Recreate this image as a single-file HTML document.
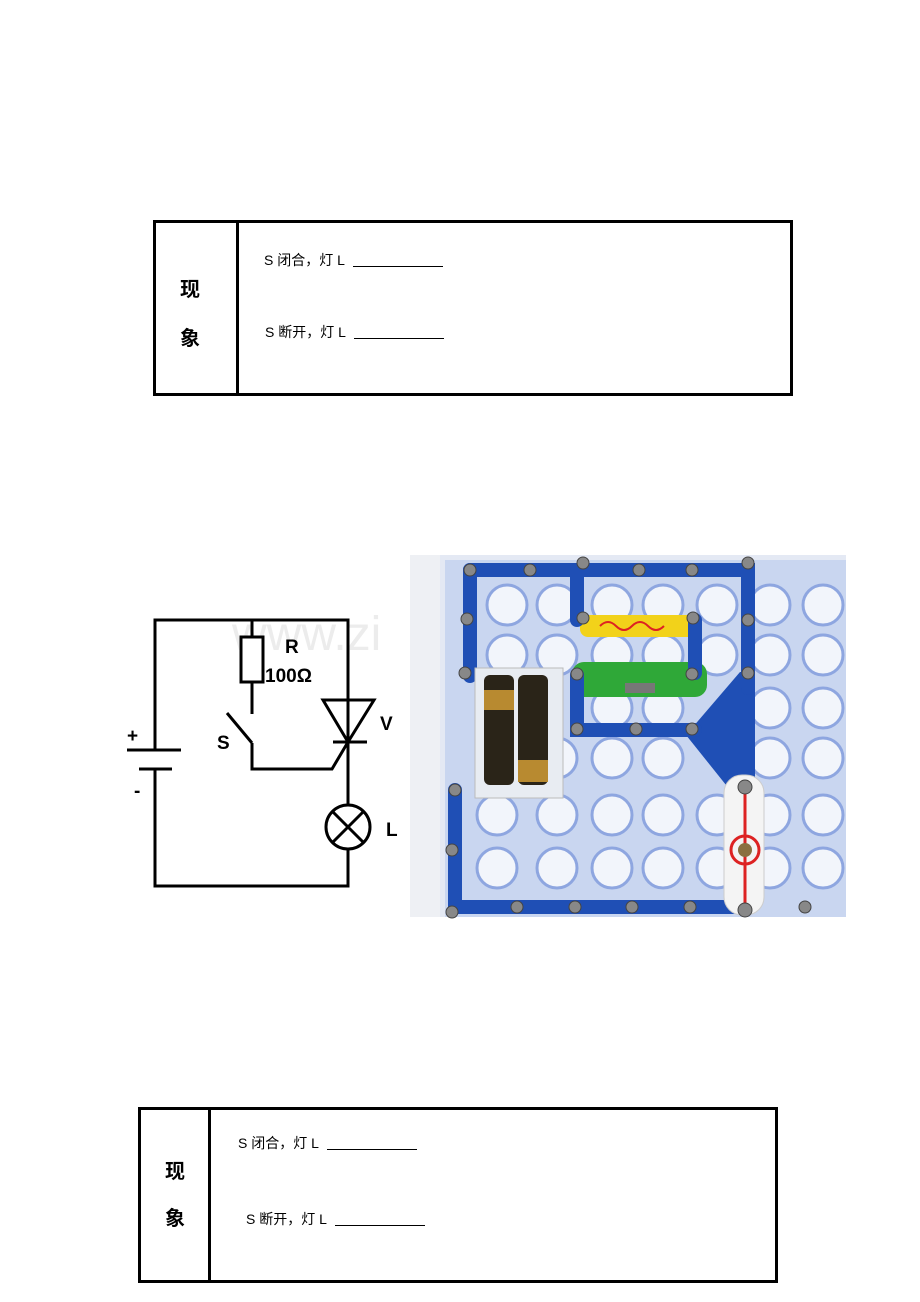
<!DOCTYPE html>
<html><head><meta charset="utf-8"><style>
html,body{margin:0;padding:0;background:#fff;}
body{width:920px;height:1302px;position:relative;overflow:hidden;font-family:"Liberation Sans","Noto Sans CJK SC",sans-serif;}
.t{position:absolute;border:3px solid #000;box-sizing:border-box;}
.d{position:absolute;top:0;bottom:0;border-left:3px solid #000;}
.lab{position:absolute;font-size:20px;font-weight:bold;}
.row{position:absolute;font-size:14px;white-space:nowrap;}
.u{display:inline-block;width:90px;border-bottom:1px solid #000;margin-left:8px;vertical-align:-2px;}
</style></head><body>
<div class="t" style="left:153px;top:220px;width:640px;height:176px;">
 <div class="d" style="left:80px"></div>
 <div class="lab" style="left:24px;top:50px">现</div>
 <div class="lab" style="left:24px;top:99px">象</div>
 <div class="row" style="left:108px;top:27px">S 闭合，灯 L<span class="u"></span></div>
 <div class="row" style="left:109px;top:99px">S 断开，灯 L<span class="u"></span></div>
</div>
<div class="t" style="left:138px;top:1107px;width:640px;height:176px;">
 <div class="d" style="left:67px"></div>
 <div class="lab" style="left:24px;top:45px">现</div>
 <div class="lab" style="left:24px;top:92px">象</div>
 <div class="row" style="left:97px;top:23px">S 闭合，灯 L<span class="u"></span></div>
 <div class="row" style="left:105px;top:99px">S 断开，灯 L<span class="u"></span></div>
</div>
<svg style="position:absolute;left:0;top:0" width="920" height="1302">
 <text x="232" y="650" font-family="Liberation Sans" font-size="48" fill="#ececec">www.zi</text>
 <g stroke="#000" stroke-width="3" fill="none">
  <polyline points="155,750 155,620 348,620 348,805"/>
  <polyline points="155,769 155,886 348,886 348,849"/>
  <line x1="127" y1="750" x2="181" y2="750"/>
  <line x1="139" y1="769" x2="172" y2="769"/>
  <line x1="252" y1="620" x2="252" y2="637"/>
  <rect x="241" y="637" width="22" height="45" fill="#fff"/>
  <line x1="252" y1="682" x2="252" y2="714"/>
  <line x1="227" y1="713" x2="252" y2="743"/>
  <polyline points="252,743 252,769 332,769 348,742"/>
  <polygon points="323,700 374,700 348,742"/>
  <line x1="333" y1="742" x2="367" y2="742"/>
  <circle cx="348" cy="827" r="22"/>
  <line x1="333" y1="812" x2="363" y2="842"/>
  <line x1="363" y1="812" x2="333" y2="842"/>
 </g>
 <g font-family="Liberation Sans" font-weight="bold" font-size="19" fill="#000">
  <text x="285" y="653">R</text>
  <text x="265" y="682">100Ω</text>
  <text x="380" y="730">V</text>
  <text x="217" y="749">S</text>
  <text x="386" y="836">L</text>
  <text x="127" y="742">+</text>
  <text x="134" y="797">-</text>
 </g>
 <!-- photo -->
 <g>
  <rect x="410" y="555" width="436" height="362" fill="#e4e9f4"/>
  <rect x="410" y="555" width="30" height="362" fill="#eef0f4"/>
  <rect x="445" y="560" width="401" height="357" fill="#c9d6f0"/>
  <g fill="#f2f5fb" stroke="#8ea6e0" stroke-width="3">
   <circle cx="507" cy="605" r="20"/><circle cx="557" cy="605" r="20"/><circle cx="612" cy="605" r="20"/><circle cx="663" cy="605" r="20"/><circle cx="717" cy="605" r="20"/><circle cx="770" cy="605" r="20"/><circle cx="823" cy="605" r="20"/>
   <circle cx="507" cy="655" r="20"/><circle cx="557" cy="655" r="20"/><circle cx="612" cy="655" r="20"/><circle cx="663" cy="655" r="20"/><circle cx="717" cy="655" r="20"/><circle cx="770" cy="655" r="20"/><circle cx="823" cy="655" r="20"/>
   <circle cx="612" cy="708" r="20"/><circle cx="663" cy="708" r="20"/><circle cx="770" cy="708" r="20"/><circle cx="823" cy="708" r="20"/>
   <circle cx="557" cy="758" r="20"/><circle cx="612" cy="758" r="20"/><circle cx="663" cy="758" r="20"/><circle cx="770" cy="758" r="20"/><circle cx="823" cy="758" r="20"/>
   <circle cx="497" cy="815" r="20"/><circle cx="557" cy="815" r="20"/><circle cx="612" cy="815" r="20"/><circle cx="663" cy="815" r="20"/><circle cx="717" cy="815" r="20"/><circle cx="770" cy="815" r="20"/><circle cx="823" cy="815" r="20"/>
   <circle cx="497" cy="868" r="20"/><circle cx="557" cy="868" r="20"/><circle cx="612" cy="868" r="20"/><circle cx="663" cy="868" r="20"/><circle cx="717" cy="868" r="20"/><circle cx="770" cy="868" r="20"/><circle cx="823" cy="868" r="20"/>
  </g>
  <polygon points="686,735 740,672 755,672 755,790 730,790" fill="#1f4fb5"/>
  <rect x="580" y="615" width="120" height="22" rx="8" fill="#f2d21a"/>
  <path d="M600,626 q8,-8 16,0 t16,0 t16,0 t16,0" stroke="#d22" stroke-width="2" fill="none"/>
  <rect x="572" y="662" width="135" height="35" rx="12" fill="#2fa838"/>
  <rect x="625" y="683" width="30" height="10" fill="#777"/>
  <g stroke="#1f4fb5" stroke-width="14" stroke-linecap="round" fill="none">
   <polyline points="470,570 748,570 748,688"/>
   <line x1="470" y1="570" x2="470" y2="676"/>
   <polyline points="577,570 577,620"/>
   <line x1="695" y1="620" x2="695" y2="673"/>
   <polyline points="577,675 577,730 695,730"/>
   <polyline points="455,790 455,907 745,907"/>
  </g>
  <rect x="475" y="668" width="88" height="130" fill="#e8ecf2" stroke="#bbb"/>
  <rect x="484" y="675" width="30" height="110" rx="6" fill="#2a2418"/>
  <rect x="518" y="675" width="30" height="110" rx="6" fill="#2a2418"/>
  <rect x="484" y="690" width="30" height="20" fill="#b88a30"/>
  <rect x="518" y="760" width="30" height="22" fill="#b88a30"/>
  <rect x="724" y="775" width="40" height="140" rx="18" fill="#f4f4f4" stroke="#ccc"/>
  <line x1="745" y1="785" x2="745" y2="907" stroke="#d22" stroke-width="3"/>
  <circle cx="745" cy="850" r="14" fill="none" stroke="#d22" stroke-width="3"/>
  <circle cx="745" cy="850" r="7" fill="#8a7040"/>
  <g fill="#888" stroke="#444" stroke-width="1">
   <circle cx="470" cy="570" r="6"/><circle cx="530" cy="570" r="6"/><circle cx="583" cy="563" r="6"/><circle cx="639" cy="570" r="6"/><circle cx="692" cy="570" r="6"/><circle cx="748" cy="563" r="6"/>
   <circle cx="467" cy="619" r="6"/><circle cx="583" cy="618" r="6"/><circle cx="693" cy="618" r="6"/><circle cx="748" cy="620" r="6"/>
   <circle cx="465" cy="673" r="6"/><circle cx="577" cy="674" r="6"/><circle cx="692" cy="674" r="6"/><circle cx="748" cy="673" r="6"/>
   <circle cx="577" cy="729" r="6"/><circle cx="636" cy="729" r="6"/><circle cx="692" cy="729" r="6"/>
   <circle cx="455" cy="790" r="6"/><circle cx="452" cy="850" r="6"/><circle cx="452" cy="912" r="6"/>
   <circle cx="517" cy="907" r="6"/><circle cx="575" cy="907" r="6"/><circle cx="632" cy="907" r="6"/><circle cx="690" cy="907" r="6"/><circle cx="745" cy="787" r="7"/><circle cx="745" cy="910" r="7"/><circle cx="805" cy="907" r="6"/>
  </g>
 </g>
</svg>
</body></html>
